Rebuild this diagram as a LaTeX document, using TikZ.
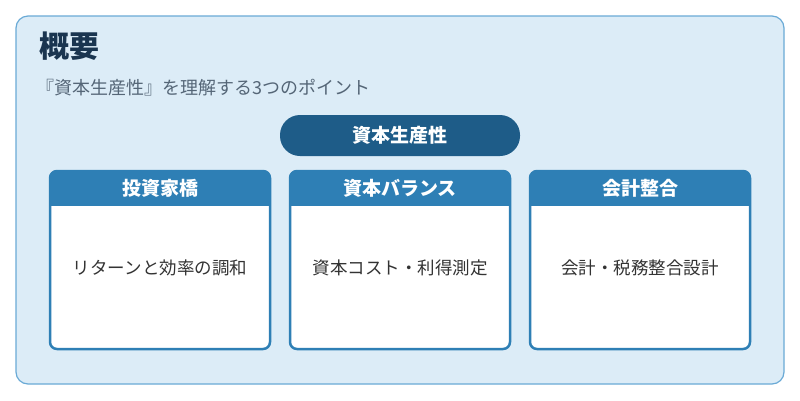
\documentclass[tikz,border=0pt]{standalone}
\usepackage{fontspec}
\newfontfamily\cjk{Noto Sans CJK JP}
\usetikzlibrary{positioning}
\definecolor{bgblue}{HTML}{DCECF7}
\definecolor{edgeblue}{HTML}{6AAAD6}
\definecolor{pillblue}{HTML}{1E5C88}
\definecolor{headblue}{HTML}{2E7FB5}
\definecolor{titletext}{HTML}{1A3550}
\definecolor{subtext}{HTML}{556677}
\begin{document}
\begin{tikzpicture}[x=1pt,y=-1pt]
\tikzstyle{card} = [draw=headblue, line width=2.5pt, rounded corners=7pt]
\tikzstyle{body} = [font=\cjk\fontsize{17.5}{20}\selectfont, text=black!80]
  \useasboundingbox (0,0) rectangle (800,400);
  \fill[white] (0,0) rectangle (800,400);
  \draw[draw=edgeblue, fill=bgblue, line width=1.2pt, rounded corners=12pt] (16,16) rectangle (784,384);

  \node (title) [anchor=west, font=\cjk\bfseries\fontsize{30}{34}\selectfont, text=titletext] at (36,46) {概要};
  \node (sub) [anchor=west, font=\cjk\fontsize{18}{20}\selectfont, text=subtext] at (33,88) {『資本生産性』を理解する3つのポイント};

  \node (pill) [fill=pillblue, text=white, rounded corners=20pt, minimum width=240pt, minimum height=41pt,
    font=\cjk\bfseries\fontsize{19}{21}\selectfont] at (400,135.5) {資本生産性};

  \foreach \x/\name/\hd/\txt in {50/a/投資家橋/リターンと効率の調和, 290/b/資本バランス/資本コスト・利得測定, 530/c/会計整合/会計・税務整合設計} {
    \fill[white, rounded corners=7pt] (\x,171) rectangle ++(220,178);
    \begin{scope}
      \clip[rounded corners=7pt] (\x,171) rectangle ++(220,178);
      \fill[headblue] (\x,169) rectangle ++(220,37);
    \end{scope}
    \draw[card] (\x,171) rectangle ++(220,178);
    \node (\name head) [text=white, font=\cjk\bfseries\fontsize{19}{21}\selectfont] at (\x+110,188) {\hd};
    \node (\name body) [body] at (\x+110,268) {\txt};
  }
\end{tikzpicture}
\end{document}
